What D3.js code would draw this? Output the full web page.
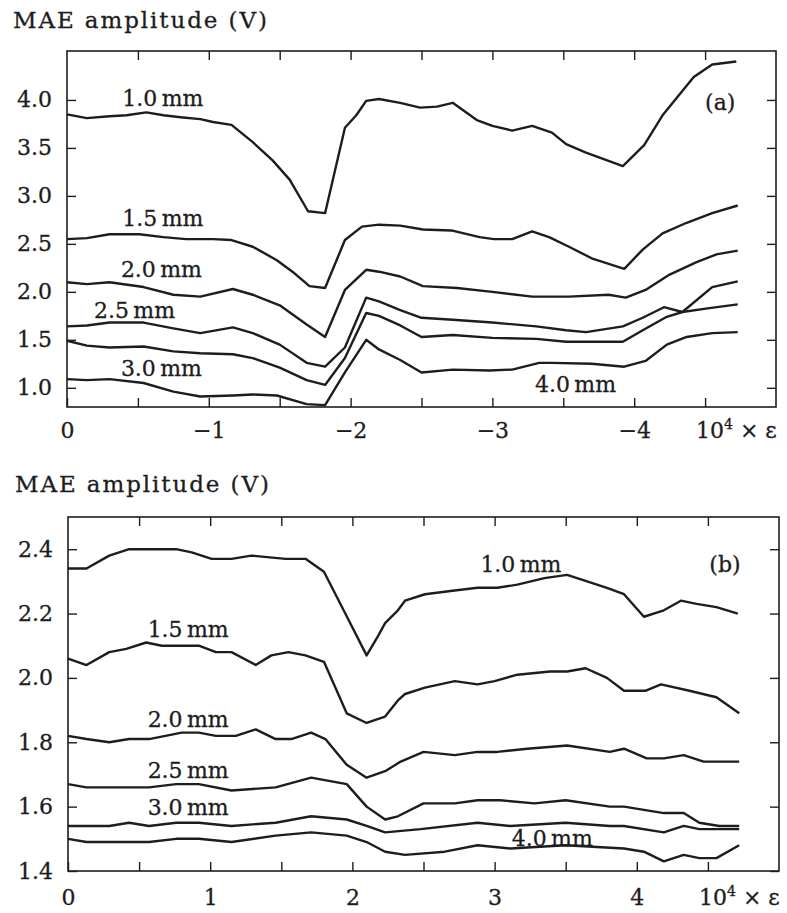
<!DOCTYPE html>
<html><head><meta charset="utf-8">
<script src="https://cdn.jsdelivr.net/npm/d3@7"></script>
<style>
body{margin:0;background:#fff;}
svg text{font-family:"DejaVu Serif",serif;fill:#1d1d1d;stroke:#1d1d1d;stroke-width:0.3px;}
</style></head><body>
<svg id="chart" width="787" height="913"></svg>
<script>
// ---------------- DATA ----------------
const seriesNames = ["1.0 mm","1.5 mm","2.0 mm","2.5 mm","3.0 mm","4.0 mm"];
const yTitle = "MAE amplitude (V)";

// Panel (a): x = 10^4 × strain (compressive, negative), y = MAE amplitude (V)
const a_10 = [[0,3.85],[-0.14,3.81],[-0.30,3.83],[-0.42,3.84],[-0.56,3.87],[-0.68,3.84],[-0.80,3.82],[-0.94,3.80],[-1.03,3.77],[-1.16,3.74],[-1.31,3.56],[-1.45,3.37],[-1.57,3.17],[-1.70,2.84],[-1.82,2.82],[-1.96,3.71],[-2.04,3.84],[-2.11,3.99],[-2.20,4.01],[-2.35,3.97],[-2.49,3.92],[-2.61,3.93],[-2.72,3.97],[-2.89,3.79],[-3.00,3.73],[-3.14,3.68],[-3.28,3.73],[-3.42,3.66],[-3.52,3.54],[-3.66,3.45],[-3.92,3.31],[-4.07,3.53],[-4.20,3.84],[-4.42,4.24],[-4.55,4.37],[-4.72,4.40]];
const a_15 = [[0,2.55],[-0.14,2.56],[-0.30,2.60],[-0.51,2.60],[-0.68,2.57],[-0.84,2.55],[-1.03,2.55],[-1.16,2.54],[-1.31,2.47],[-1.48,2.33],[-1.59,2.21],[-1.71,2.06],[-1.82,2.04],[-1.96,2.54],[-2.08,2.68],[-2.20,2.70],[-2.35,2.69],[-2.51,2.65],[-2.71,2.64],[-2.91,2.57],[-3.01,2.55],[-3.14,2.55],[-3.28,2.63],[-3.40,2.57],[-3.54,2.47],[-3.70,2.35],[-3.93,2.24],[-4.06,2.44],[-4.20,2.61],[-4.37,2.72],[-4.55,2.82],[-4.73,2.90]];
const a_20 = [[0,2.10],[-0.14,2.08],[-0.30,2.10],[-0.54,2.05],[-0.75,1.97],[-0.94,1.95],[-1.17,2.03],[-1.31,1.97],[-1.50,1.86],[-1.69,1.66],[-1.82,1.53],[-1.96,2.02],[-2.11,2.23],[-2.20,2.21],[-2.35,2.16],[-2.51,2.06],[-2.75,2.04],[-3.00,2.00],[-3.28,1.95],[-3.54,1.95],[-3.82,1.97],[-3.94,1.94],[-4.08,2.02],[-4.25,2.18],[-4.44,2.31],[-4.58,2.39],[-4.73,2.43]];
const a_25 = [[0,1.64],[-0.14,1.65],[-0.30,1.68],[-0.54,1.68],[-0.75,1.62],[-0.94,1.57],[-1.17,1.63],[-1.31,1.57],[-1.50,1.45],[-1.69,1.26],[-1.82,1.22],[-1.96,1.42],[-2.11,1.94],[-2.20,1.90],[-2.35,1.81],[-2.50,1.73],[-2.72,1.71],[-3.00,1.68],[-3.31,1.64],[-3.52,1.60],[-3.66,1.58],[-3.92,1.64],[-4.06,1.73],[-4.21,1.84],[-4.34,1.79],[-4.55,2.05],[-4.73,2.11]];
const a_30 = [[0,1.49],[-0.14,1.44],[-0.30,1.42],[-0.54,1.43],[-0.75,1.38],[-0.94,1.36],[-1.17,1.35],[-1.31,1.31],[-1.50,1.21],[-1.69,1.08],[-1.82,1.03],[-1.96,1.31],[-2.11,1.78],[-2.20,1.75],[-2.35,1.65],[-2.50,1.53],[-2.72,1.55],[-3.00,1.52],[-3.31,1.51],[-3.52,1.48],[-3.92,1.48],[-4.06,1.60],[-4.23,1.74],[-4.34,1.79],[-4.53,1.83],[-4.73,1.87]];
const a_40 = [[0,1.09],[-0.14,1.08],[-0.30,1.09],[-0.54,1.05],[-0.75,0.96],[-0.94,0.91],[-1.17,0.92],[-1.31,0.93],[-1.48,0.92],[-1.69,0.83],[-1.82,0.82],[-1.96,1.16],[-2.11,1.50],[-2.20,1.40],[-2.35,1.29],[-2.50,1.16],[-2.72,1.19],[-2.98,1.18],[-3.14,1.19],[-3.33,1.26],[-3.42,1.26],[-3.70,1.25],[-3.93,1.22],[-4.08,1.28],[-4.23,1.45],[-4.37,1.53],[-4.55,1.57],[-4.73,1.58]];

// Panel (b): x = 10^4 × strain (tensile), y = MAE amplitude (V)
const b_10 = [[0,2.34],[0.13,2.34],[0.29,2.38],[0.43,2.40],[0.59,2.40],[0.76,2.40],[0.87,2.39],[1.01,2.37],[1.15,2.37],[1.29,2.38],[1.53,2.37],[1.67,2.37],[1.80,2.33],[1.95,2.20],[2.10,2.07],[2.18,2.13],[2.23,2.17],[2.32,2.21],[2.37,2.24],[2.51,2.26],[2.69,2.27],[2.88,2.28],[3.02,2.28],[3.16,2.29],[3.35,2.31],[3.51,2.32],[3.65,2.30],[3.79,2.28],[3.91,2.26],[4.05,2.19],[4.19,2.21],[4.31,2.24],[4.42,2.23],[4.56,2.22],[4.71,2.20]];
const b_15 = [[0,2.06],[0.13,2.04],[0.29,2.08],[0.41,2.09],[0.55,2.11],[0.66,2.10],[0.92,2.10],[1.04,2.08],[1.15,2.08],[1.32,2.04],[1.43,2.07],[1.55,2.08],[1.67,2.07],[1.80,2.05],[1.96,1.89],[2.10,1.86],[2.23,1.88],[2.32,1.93],[2.37,1.95],[2.51,1.97],[2.72,1.99],[2.88,1.98],[3.00,1.99],[3.16,2.01],[3.39,2.02],[3.51,2.02],[3.64,2.03],[3.79,2.00],[3.91,1.96],[4.06,1.96],[4.17,1.98],[4.37,1.96],[4.56,1.94],[4.72,1.89]];
const b_20 = [[0,1.82],[0.13,1.81],[0.29,1.80],[0.43,1.81],[0.57,1.81],[0.80,1.83],[0.92,1.83],[1.04,1.82],[1.18,1.82],[1.32,1.84],[1.46,1.81],[1.57,1.81],[1.71,1.83],[1.81,1.81],[1.96,1.73],[2.10,1.69],[2.23,1.71],[2.34,1.74],[2.50,1.77],[2.72,1.76],[2.88,1.77],[3.02,1.77],[3.23,1.78],[3.51,1.79],[3.81,1.77],[3.91,1.78],[4.07,1.75],[4.19,1.75],[4.33,1.76],[4.47,1.74],[4.72,1.74]];
const b_25 = [[0,1.67],[0.13,1.66],[0.29,1.66],[0.43,1.66],[0.57,1.66],[0.76,1.67],[0.92,1.67],[1.15,1.65],[1.46,1.66],[1.71,1.69],[1.96,1.67],[2.10,1.60],[2.23,1.56],[2.32,1.57],[2.50,1.61],[2.72,1.61],[2.88,1.62],[3.04,1.62],[3.28,1.61],[3.50,1.62],[3.81,1.60],[3.91,1.60],[4.19,1.58],[4.33,1.58],[4.44,1.55],[4.58,1.54],[4.72,1.54]];
const b_30 = [[0,1.54],[0.13,1.54],[0.29,1.54],[0.43,1.55],[0.57,1.54],[0.76,1.55],[0.92,1.55],[1.15,1.54],[1.46,1.55],[1.71,1.57],[1.96,1.56],[2.10,1.54],[2.23,1.52],[2.48,1.53],[2.88,1.55],[3.11,1.54],[3.50,1.55],[3.81,1.54],[3.91,1.54],[4.19,1.52],[4.33,1.54],[4.44,1.53],[4.72,1.53]];
const b_40 = [[0,1.50],[0.13,1.49],[0.29,1.49],[0.43,1.49],[0.57,1.49],[0.76,1.50],[0.92,1.50],[1.15,1.49],[1.46,1.51],[1.71,1.52],[1.96,1.51],[2.10,1.49],[2.23,1.46],[2.37,1.45],[2.65,1.46],[2.88,1.48],[3.11,1.47],[3.50,1.48],[3.91,1.47],[4.05,1.46],[4.19,1.43],[4.33,1.45],[4.44,1.44],[4.56,1.44],[4.72,1.48]];

// tick values / labels
const aXTicks = [0,-0.5,-1,-1.5,-2,-2.5,-3,-3.5,-4,-4.5];
const aXLabels = {"0":"0","-1":"\u22121","-2":"\u22122","-3":"\u22123","-4":"\u22124"};
const aYTicks = [1.0,1.5,2.0,2.5,3.0,3.5,4.0];
const bXTicks = [0,0.5,1,1.5,2,2.5,3,3.5,4,4.5];
const bXLabels = {"0":"0","1":"1","2":"2","3":"3","4":"4"};
const bYTicks = [1.4,1.6,1.8,2.0,2.2,2.4];

// curve label anchors (data coordinates)
const aLabelX = [-0.39,-0.39,-0.38,-0.19,-0.38,-3.30];
const aLabelY = [3.94,2.69,2.15,1.73,1.125,0.96];
const bLabelX = [2.90,0.56,0.56,0.56,0.56,3.12];
const bLabelY = [2.33,2.127,1.847,1.689,1.574,1.478];

// ---------------- DRAWING ----------------
const svg = d3.select("#chart");
const INK = "#1d1d1d";

function drawPanel(cfg){
  const {x0,x1,y0,y1,xDomain,yDomain,series,xTicks,xLabels,yTicks,yFmt,
         labX,labY,tag,tagX,tagY,titleX,titleY,xPad} = cfg;
  const x = d3.scaleLinear().domain(xDomain).range([x0,x1]);
  const y = d3.scaleLinear().domain(yDomain).range([y1,y0]);
  const g = svg.append("g");

  // title (y axis label)
  g.append("text").attr("x",titleX).attr("y",titleY)
    .attr("font-size",23).attr("letter-spacing",1.9).text(yTitle);

  const tick = 9;
  const styleAxis = sel => {
    sel.select(".domain").remove();
    sel.selectAll(".tick line").attr("stroke",INK).attr("stroke-width",1.4);
    sel.selectAll(".tick text").attr("font-family","DejaVu Serif, serif")
      .attr("font-size",22).attr("fill",INK);
  };
  g.append("g").attr("transform",`translate(0,${y1})`)
    .call(d3.axisBottom(x).tickValues(xTicks).tickSize(-tick).tickPadding(xPad)
      .tickFormat(d => xLabels[String(d)] || ""))
    .call(styleAxis);
  g.append("g").attr("transform",`translate(0,${y0})`)
    .call(d3.axisTop(x).tickValues(xTicks.filter(d=>d!==0)).tickSize(-tick).tickFormat(""))
    .call(styleAxis);
  g.append("g").attr("transform",`translate(${x0},0)`)
    .call(d3.axisLeft(y).tickValues(yTicks).tickSize(-tick).tickPadding(15).tickFormat(yFmt))
    .call(styleAxis);
  g.append("g").attr("transform",`translate(${x1},0)`)
    .call(d3.axisRight(y).tickValues(yTicks).tickSize(-tick).tickFormat(""))
    .call(styleAxis);

  // frame
  g.append("rect").attr("x",x0).attr("y",y0).attr("width",x1-x0).attr("height",y1-y0)
    .attr("fill","none").attr("stroke",INK).attr("stroke-width",1.6);

  // curves
  const line = d3.line().x(d=>x(d[0])).y(d=>y(d[1]));
  g.selectAll("path.curve").data(series).join("path").attr("class","curve")
    .attr("d",line).attr("fill","none").attr("stroke",INK)
    .attr("stroke-width",2.4).attr("stroke-linejoin","round");

  // curve labels
  seriesNames.forEach((name,i)=>{
    g.append("text").attr("x",x(labX[i])).attr("y",y(labY[i]))
      .attr("font-size",22).text(name.replace(" ","\u2009"));
  });
  // panel tag
  g.append("text").attr("x",x(tagX)).attr("y",y(tagY)).attr("font-size",22).text(tag);

  // x-axis unit label: 10^4 × ε
  const t = g.append("text").attr("x",x1-80).attr("y",y1+xPad+16).attr("font-size",22);
  t.append("tspan").text("10");
  t.append("tspan").attr("font-size",14).attr("dy",-9).text("4");
  t.append("tspan").attr("dy",9).text(" \u00d7 \u03b5");
}

drawPanel({x0:67,x1:776,y0:51,y1:407,xDomain:[0,-5],yDomain:[0.8,4.51],
  series:[a_10,a_15,a_20,a_25,a_30,a_40],xTicks:aXTicks,xLabels:aXLabels,
  yTicks:aYTicks,yFmt:d3.format(".1f"),labX:aLabelX,labY:aLabelY,
  tag:"(a)",tagX:-4.5,tagY:3.89,titleX:13,titleY:28,xPad:15});

drawPanel({x0:68,x1:779,y0:517,y1:871,xDomain:[0,5],yDomain:[1.4,2.5],
  series:[b_10,b_15,b_20,b_25,b_30,b_40],xTicks:bXTicks,xLabels:bXLabels,
  yTicks:bYTicks,yFmt:d3.format(".1f"),labX:bLabelX,labY:bLabelY,
  tag:"(b)",tagX:4.51,tagY:2.33,titleX:15,titleY:492,xPad:18});
</script>
</body></html>
